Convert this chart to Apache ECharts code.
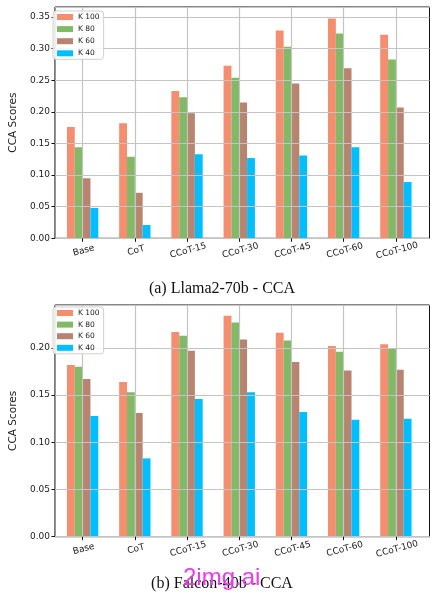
<!DOCTYPE html>
<html>
<head>
<meta charset="utf-8">
<script src="https://cdn.jsdelivr.net/npm/echarts@6/dist/echarts.min.js"></script>
<style>html,body{margin:0;padding:0;background:#fff;}#c{width:444px;height:598px;}</style>
</head>
<body>
<div id="c"></div>
<script>
const categories = ['Base', 'CoT', 'CCoT-15', 'CCoT-30', 'CCoT-45', 'CCoT-60', 'CCoT-100'];
const seriesNames = ['K 100', 'K 80', 'K 60', 'K 40'];
const llamaK100 = [0.176, 0.182, 0.233, 0.273, 0.329, 0.348, 0.322];
const llamaK80  = [0.144, 0.129, 0.223, 0.254, 0.303, 0.324, 0.283];
const llamaK60  = [0.095, 0.072, 0.198, 0.215, 0.245, 0.269, 0.207];
const llamaK40  = [0.048, 0.021, 0.133, 0.127, 0.131, 0.144, 0.089];
const falconK100 = [0.182, 0.164, 0.217, 0.234, 0.216, 0.202, 0.204];
const falconK80  = [0.180, 0.153, 0.213, 0.227, 0.208, 0.196, 0.199];
const falconK60  = [0.167, 0.131, 0.197, 0.209, 0.185, 0.176, 0.177];
const falconK40  = [0.128, 0.083, 0.146, 0.153, 0.132, 0.124, 0.125];
const yTickStep = 0.05;
const llamaYMax = 0.366;
const falconYMax = 0.2455;
const titles = ['(a) Llama2-70b - CCA', '(b) Falcon-40b - CCA'];
const yName = 'CCA Scores';

const colors = ['#F58D6F', '#82B967', '#B8836F', '#00BFFF'];
const FONT = 'DejaVu Sans';

const chart = echarts.init(document.getElementById('c'), null, {renderer: 'canvas'});

const panels = [
  {top: 7, height: 231.3, max: llamaYMax, data: [llamaK100, llamaK80, llamaK60, llamaK40]},
  {top: 305, height: 231.7, max: falconYMax, data: [falconK100, falconK80, falconK60, falconK40]}
];

const grid = [], xAxis = [], yAxis = [], series = [], legend = [];
panels.forEach((p, i) => {
  const gFrame = grid.length;
  grid.push({left: 50, top: p.top, width: 379.5, height: p.height, show: true,
    borderColor: '#111', borderWidth: 1, backgroundColor: 'transparent'});
  const gBars = grid.length;
  grid.push({left: 56.5, top: p.top, width: 365.5, height: p.height});

  xAxis.push({gridIndex: gFrame, type: 'value', min: 0, max: 1, show: false});
  xAxis.push({
    gridIndex: gBars, type: 'category', data: categories, z: 3,
    axisLine: {show: false},
    axisTick: {show: true, alignWithLabel: true, length: 3.5, lineStyle: {color: '#111', width: 1}},
    splitLine: {show: true, alignWithLabel: true, lineStyle: {color: '#c4c4c4', width: 1.2}},
    axisLabel: {rotate: 15, align: 'center', verticalAlign: 'top', margin: 8,
      fontSize: 9, color: '#222', fontFamily: FONT, interval: 0}
  });

  yAxis.push({
    gridIndex: gFrame, type: 'value', min: 0, max: p.max, interval: yTickStep, z: 3,
    name: yName, nameLocation: 'middle', nameGap: 26,
    nameTextStyle: {fontSize: 10.5, color: '#222', fontFamily: FONT},
    axisLine: {show: false},
    axisTick: {show: true, length: 3.5, lineStyle: {color: '#111', width: 1}},
    axisLabel: {fontSize: 9, color: '#222', fontFamily: FONT, margin: 5, showMaxLabel: false,
      formatter: v => v.toFixed(2)},
    splitLine: {show: true, lineStyle: {color: '#c4c4c4', width: 1.2}}
  });
  yAxis.push({gridIndex: gBars, type: 'value', min: 0, max: p.max, show: false});

  p.data.forEach((d, k) => {
    series.push({
      type: 'bar', name: seriesNames[k], xAxisIndex: xAxis.length - 1, yAxisIndex: yAxis.length - 1,
      data: d, barWidth: '15%', barGap: '0%', itemStyle: {color: colors[k]}, z: 2,
      emphasis: {disabled: true}
    });
  });

  legend.push({
    data: seriesNames, orient: 'vertical', left: 53, top: p.top + (i === 0 ? 4 : 2),
    icon: 'rect', itemWidth: 16, itemHeight: 6, itemGap: i === 0 ? 4.1 : 3.6,
    padding: [2, 4, 2, 4], borderColor: '#d0d0d0', borderWidth: 1, borderRadius: 3,
    backgroundColor: 'rgba(255,255,255,0.85)', z: 10,
    textStyle: {fontSize: 7.5, color: '#222', fontFamily: FONT}
  });
});

chart.setOption({
  animation: false,
  color: colors,
  grid, xAxis, yAxis, series, legend,
  graphic: [
    {type: 'text', left: 'center', top: 281, style: {text: titles[0], font: '16px "Liberation Serif"', fill: '#111'}},
    {type: 'text', left: 'center', top: 576, style: {text: titles[1], font: '16px "Liberation Serif"', fill: '#111'}},
    {type: 'text', left: 183, top: 566, z: 100, style: {text: '2img.ai', font: '24px "Liberation Sans"', fill: '#EE38EE'}}
  ]
});
</script>
</body>
</html>
